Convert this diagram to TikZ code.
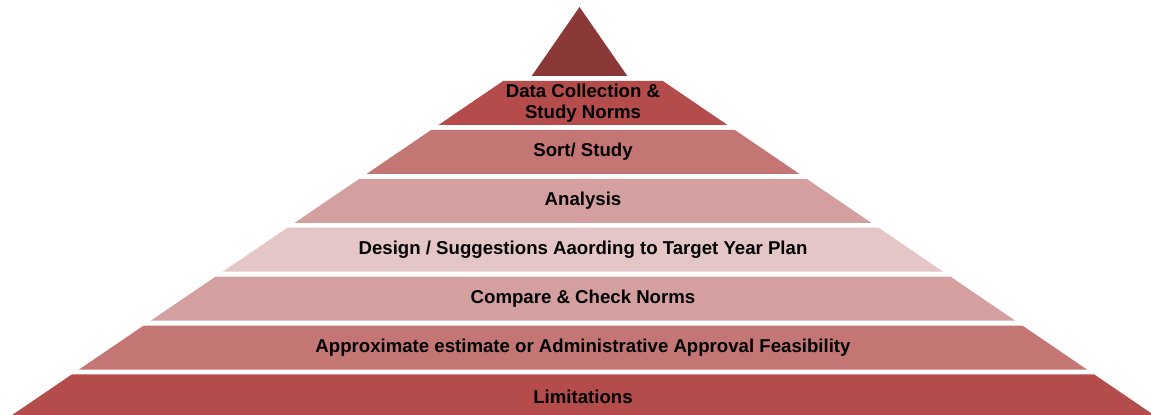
\documentclass[tikz,border=0pt]{standalone}
\usepackage{fontspec}
\newfontfamily\labfont{Liberation Sans}
\definecolor{cTop}{RGB}{139,57,56}
\definecolor{cA}{RGB}{179,76,74}
\definecolor{cB}{RGB}{196,118,116}
\definecolor{cC}{RGB}{212,160,159}
\definecolor{cD}{RGB}{229,198,198}
\begin{document}
\begin{tikzpicture}[x=0.02cm,y=-0.02cm,
  lab/.style={font=\labfont\bfseries\fontsize{10.6}{12.2}\selectfont, text=black, align=center, inner sep=0pt}]
\useasboundingbox (0,0) rectangle (1151,415);
\clip (0,0) rectangle (1151,415);
\fill[cTop] (579.5,7) -- (627.3,76) -- (531.7,76) -- cycle;
\foreach \li/\lc/\ltxt in {1/cA/{Data Collection \&\\Study Norms},
                      2/cB/{Sort/ Study},
                      3/cC/{Analysis},
                      4/cD/{Design / Suggestions Aaording to Target Year Plan},
                      5/cC/{Compare \& Check Norms},
                      6/cB/{Approximate estimate or Administrative Approval Feasibility},
                      7/cA/{Limitations}}{
  \pgfmathsetmacro\lyt{81+48.9*(\li-1)}
  \pgfmathsetmacro\lyb{\lyt+44}
  \pgfmathsetmacro\lhwt{501.3+(\lyt-367.7)*1.47}
  \pgfmathsetmacro\lhwb{501.3+(\lyb-367.7)*1.47}
  \fill[\lc] (583-\lhwt,\lyt) -- (583+\lhwt,\lyt) -- (583+\lhwb,\lyb) -- (583-\lhwb,\lyb) -- cycle;
  \node[lab] (L\li) at (583,\lyt+22) {\ltxt};
}
\end{tikzpicture}
\end{document}
